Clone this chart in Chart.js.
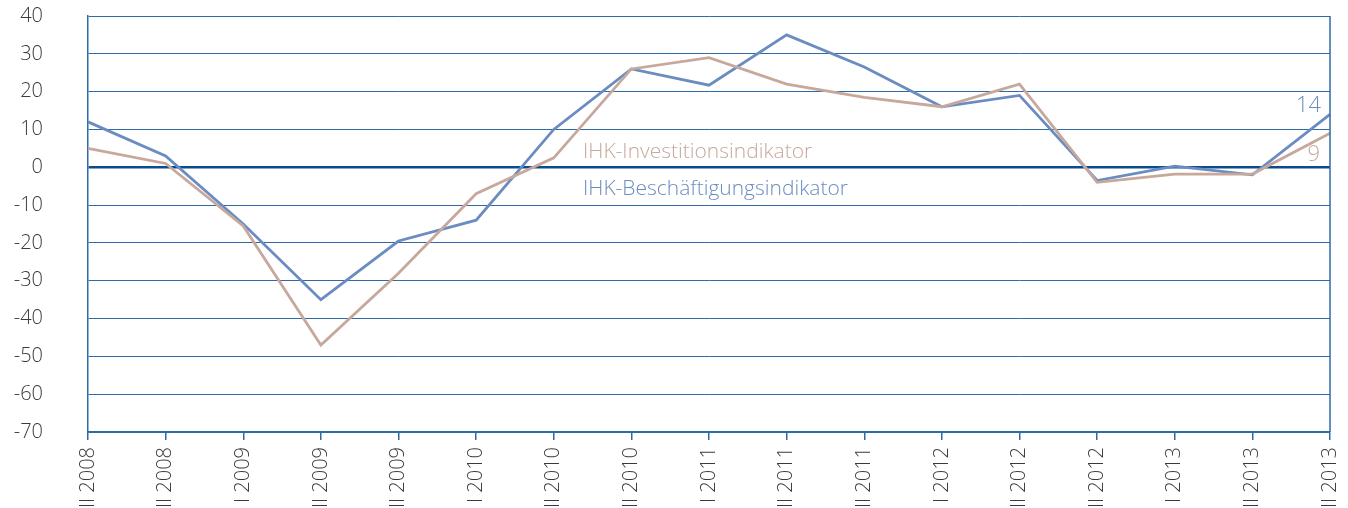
<!DOCTYPE html>
<html>
<head>
<meta charset="utf-8">
<script src="https://cdn.jsdelivr.net/npm/chart.js@4"></script>
<style>
  html, body { margin: 0; padding: 0; background: #fff; overflow: hidden; }
  #wrap { width: 1348px; height: 508px; position: relative; }
</style>
</head>
<body>
<div id="wrap"><canvas id="chart"></canvas></div>
<script>
const labels = ['II 2008', 'III 2008', 'I 2009', 'II 2009', 'III 2009', 'I 2010', 'II 2010', 'III 2010',
  'I 2011', 'II 2011', 'III 2011', 'I 2012', 'II 2012', 'III 2012', 'I 2013', 'II 2013', 'III 2013'];
const investition = [5, 1, -15.5, -47, -28, -7, 2.5, 26, 29, 22, 18.5, 16, 22, -4, -1.8, -1.8, 9];
const beschaeftigung = [12, 3, -15, -35, -19.5, -14, 10, 26, 21.7, 35, 26.5, 16, 19, -3.5, 0.3, -2, 14];
const yTicks = [40, -70, 10];

const brown = '#c7a89c';
const blue = '#6b8cc1';
const gridBlue = '#2f6aa6';
const font = '"Open Sans", "Liberation Sans", sans-serif';

const overlay = {
  id: 'overlay',
  afterDraw(chart) {
    const { ctx, chartArea: a, scales: { x, y } } = chart;
    ctx.save();
    // right border
    ctx.strokeStyle = gridBlue;
    ctx.lineWidth = 1.5;
    ctx.beginPath();
    ctx.moveTo(a.right, a.top);
    ctx.lineTo(a.right, a.bottom);
    ctx.stroke();
    // series names
    ctx.font = '300 21px ' + font;
    ctx.textBaseline = 'middle';
    ctx.textAlign = 'left';
    ctx.fillStyle = brown;
    ctx.fillText('IHK-Investitionsindikator', 583, 152);
    ctx.fillStyle = blue;
    ctx.fillText('IHK-Beschäftigungsindikator', 583, 189);
    // end values
    const last = labels.length - 1;
    ctx.textAlign = 'right';
    ctx.font = '300 22px ' + font;
    ctx.fillStyle = blue;
    ctx.fillText(String(Math.round(beschaeftigung[last])), x.getPixelForValue(last) - 9, y.getPixelForValue(beschaeftigung[last]) - 9);
    ctx.fillStyle = brown;
    ctx.fillText(String(Math.round(investition[last])), x.getPixelForValue(last) - 10, y.getPixelForValue(investition[last]) + 21);
    ctx.restore();
  }
};

new Chart(document.getElementById('chart'), {
  type: 'line',
  data: {
    labels: labels,
    datasets: [{
      label: 'IHK-Investitionsindikator',
      data: investition,
      borderColor: brown,
      borderWidth: 2.8,
      pointRadius: 0,
      tension: 0
    }, {
      label: 'IHK-Beschäftigungsindikator',
      data: beschaeftigung,
      borderColor: blue,
      borderWidth: 2.8,
      pointRadius: 0,
      tension: 0
    }]
  },
  options: {
    responsive: true,
    maintainAspectRatio: false,
    animation: false,
    layout: { padding: { top: 16, right: 18, left: 0, bottom: 0 } },
    plugins: {
      legend: { display: false },
      tooltip: { enabled: false }
    },
    scales: {
      x: {
        offset: false,
        afterFit: s => { s.height = 76; s.paddingLeft = 0; s.paddingRight = 0; },
        border: { color: gridBlue, width: 1.5 },
        grid: { drawOnChartArea: false, color: gridBlue, tickLength: 8, lineWidth: 1.5 },
        ticks: {
          autoSkip: false,
          maxRotation: 90,
          minRotation: 90,
          padding: 7,
          color: '#3a3a3a',
          font: { family: font, size: 20, weight: 300 }
        }
      },
      y: {
        min: yTicks[1],
        max: yTicks[0],
        afterFit: s => { s.width = 88; s.paddingTop = 0; s.paddingBottom = 0; },
        border: { color: gridBlue, width: 1.5 },
        grid: {
          drawTicks: false,
          color: c => c.tick.value === 0 ? '#0b4d8a' : gridBlue,
          lineWidth: c => c.tick.value === 0 ? 2.5 : 1
        },
        ticks: {
          stepSize: yTicks[2],
          padding: 45,
          color: '#3a3a3a',
          font: { family: font, size: 20, weight: 300 }
        }
      }
    }
  },
  plugins: [overlay]
});
</script>
</body>
</html>
